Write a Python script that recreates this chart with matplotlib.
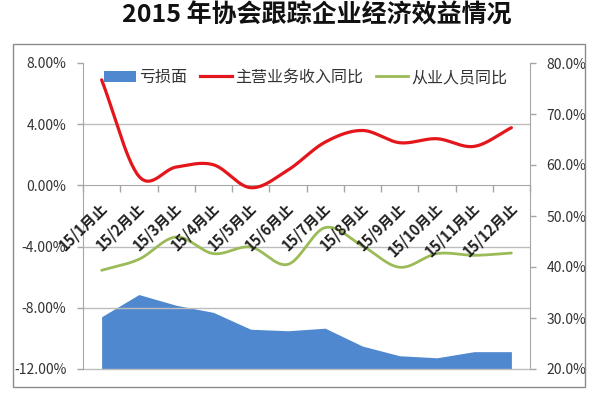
import numpy as np
import matplotlib
matplotlib.use("Agg")
import matplotlib.pyplot as plt
from matplotlib.patches import Patch, Rectangle
from matplotlib.lines import Line2D
from matplotlib.ticker import FuncFormatter, FixedLocator
import matplotlib.transforms as mtransforms

plt.rcParams['font.family'] = ['Noto Sans CJK SC', 'DejaVu Sans']

# ---- data ----
categories = ["15/1月止", "15/2月止", "15/3月止", "15/4月止", "15/5月止", "15/6月止",
              "15/7月止", "15/8月止", "15/9月止", "15/10月止", "15/11月止", "15/12月止"]
loss_ratio = [30.25, 34.6, 32.5, 31.1, 27.8, 27.5, 28.0, 24.5, 22.6, 22.2, 23.4, 23.4]      # 亏损面 (right axis, %)
revenue_yoy = [6.9, 0.6, 1.2, 1.35, -0.15, 1.0, 2.83, 3.59, 2.79, 3.05, 2.55, 3.77]         # 主营业务收入同比 (left axis, %)
staff_yoy = [-5.55, -4.83, -3.37, -4.46, -4.03, -5.16, -2.76, -3.95, -5.35, -4.46, -4.57, -4.42]  # 从业人员同比 (left axis, %)
series_names = ["亏损面", "主营业务收入同比", "从业人员同比"]
title = "2015 年协会跟踪企业经济效益情况"

BLUE = "#4F88CF"
RED = "#E3161B"
GREEN = "#9BBB59"
AXIS_GRAY = "#A6A6A6"
GRID_GRAY = "#BDBDBD"
TXT = "#333333"


def smooth(xs, ys, n=30):
    """Catmull-Rom style smoothing (like Excel's smoothed line) for drawing."""
    xs = np.asarray(xs, float)
    ys = np.asarray(ys, float)
    m = len(ys)
    tang = np.zeros(m)
    for i in range(m):
        if i == 0:
            tang[i] = ys[1] - ys[0]
        elif i == m - 1:
            tang[i] = ys[-1] - ys[-2]
        else:
            tang[i] = (ys[i + 1] - ys[i - 1]) / 2.0
    ox, oy = [], []
    t = np.linspace(0, 1, n, endpoint=False)
    h00 = 2 * t**3 - 3 * t**2 + 1
    h10 = t**3 - 2 * t**2 + t
    h01 = -2 * t**3 + 3 * t**2
    h11 = t**3 - t**2
    for i in range(m - 1):
        dx = xs[i + 1] - xs[i]
        ox.extend(xs[i] + t * dx)
        oy.extend(h00 * ys[i] + h10 * tang[i] + h01 * ys[i + 1] + h11 * tang[i + 1])
    ox.append(xs[-1])
    oy.append(ys[-1])
    return np.array(ox), np.array(oy)


fig = plt.figure(figsize=(6.0, 3.94), dpi=100)
L, R, T, B = 83, 530, 63, 369
ax = fig.add_axes([L / 600, 1 - B / 394, (R - L) / 600, (B - T) / 394])
ax2 = ax.twinx()

x = np.arange(len(categories))

# area on right axis
ax2.fill_between(x, 20, loss_ratio, color=BLUE, linewidth=0, zorder=1)
ax2.set_ylim(20, 80)
ax2.set_yticks([20, 30, 40, 50, 60, 70, 80])
ax2.yaxis.set_major_formatter(FuncFormatter(lambda v, p: f"{v:.1f}%"))

# lines on left axis (drawn above)
ax.set_zorder(ax2.get_zorder() + 1)
ax.patch.set_visible(False)
sx, sy = smooth(x, revenue_yoy)
ax.plot(sx, sy, color=RED, linewidth=2.3, solid_capstyle='round', zorder=4)
gx, gy = smooth(x, staff_yoy)
ax.plot(gx, gy, color=GREEN, linewidth=2.0, solid_capstyle='round', zorder=3)

ax.set_xlim(-0.5, len(categories) - 0.5)
ax.set_ylim(-12, 8)
ax.set_yticks([-12, -8, -4, 0, 4, 8])
ax.yaxis.set_major_formatter(FuncFormatter(lambda v, p: f"{v:.2f}%"))

# gridlines
for gv in [-8, -4, 4]:
    ax.axhline(gv, color=GRID_GRAY, linewidth=1.0, zorder=0)
ax.axhline(-12, color=GRID_GRAY, linewidth=1.0, zorder=0, clip_on=False)

# spines
for s in ["top"]:
    ax.spines[s].set_visible(False)
    ax2.spines[s].set_visible(False)
ax2.spines["bottom"].set_visible(False)
ax2.spines["left"].set_visible(False)
ax.spines["right"].set_visible(False)
ax.spines["left"].set_color(AXIS_GRAY)
ax2.spines["right"].set_color(AXIS_GRAY)
ax.spines["bottom"].set_position(("data", 0))
ax.spines["bottom"].set_color(AXIS_GRAY)

ax.tick_params(axis='y', colors=AXIS_GRAY, labelcolor=TXT, labelsize=10, length=4, width=1, pad=8)
ax2.tick_params(axis='y', colors=AXIS_GRAY, labelcolor=TXT, labelsize=10, length=4, width=1, pad=8)

# x ticks at category boundaries
ax.xaxis.set_major_locator(FixedLocator(np.arange(-0.5, len(categories), 1.0)))
ax.tick_params(axis='x', colors=AXIS_GRAY, length=5, width=1, direction='out', labelbottom=False)

# rotated category labels
for i, lab in enumerate(categories):
    tr = ax.transData + mtransforms.ScaledTranslation(2 / 72, -14 / 72, fig.dpi_scale_trans)
    ax.text(i, 0, lab, transform=tr, rotation=45, rotation_mode='anchor',
            ha='right', va='center', fontsize=10.5, fontweight='bold', color='#222222', zorder=5)

# legend
handles = [Patch(facecolor=BLUE, edgecolor='none'),
           Line2D([], [], color=RED, linewidth=2.3),
           Line2D([], [], color=GREEN, linewidth=2.0)]
leg = fig.legend(handles, series_names, loc='upper left', ncol=3, frameon=False,
                 bbox_to_anchor=(104 / 600, 1 - 69 / 394), bbox_transform=fig.transFigure,
                 borderpad=0, borderaxespad=0, handlelength=2.0, handletextpad=0.2,
                 columnspacing=0.8, fontsize=11.5)
for t in leg.get_texts():
    t.set_color(TXT)

# title
fig.text(317 / 600, 1 - 15 / 394, title, ha='center', va='center', fontsize=18,
         fontweight='bold', color='#111111')

# outer chart frame
fig.patches.append(Rectangle((13 / 600, 1 - 387 / 394), 572 / 600, 343 / 394,
                             transform=fig.transFigure, fill=False,
                             edgecolor='#8C8C8C', linewidth=1.0))

fig.savefig("out.png", dpi=100)
